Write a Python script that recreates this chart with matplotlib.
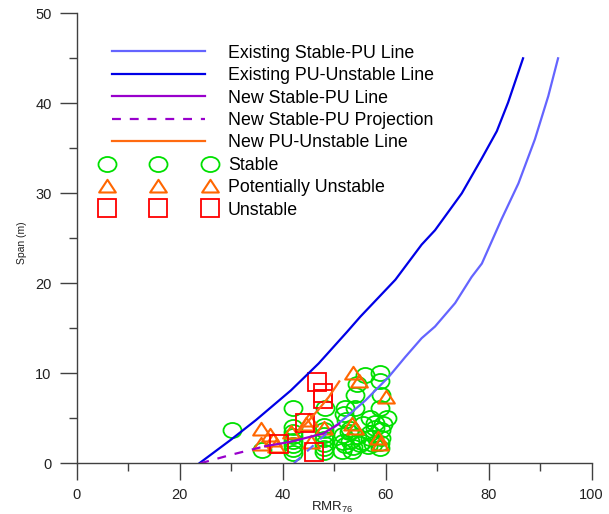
import numpy as np
import matplotlib
matplotlib.use('Agg')
import matplotlib.pyplot as plt
from matplotlib.path import Path
from matplotlib.legend_handler import HandlerLine2D

plt.rcParams['font.family'] = ['Liberation Sans', 'DejaVu Sans']
plt.rcParams['mathtext.fontset'] = 'custom'
plt.rcParams['mathtext.rm'] = 'Liberation Sans'

# existing boundary curves (RMR76, span)
exist_spu_x = [42.2, 47.7, 51.0, 56.1, 60.6, 63.8, 67.0, 69.6, 73.5, 76.7, 78.7, 82.5, 85.8, 89.0, 91.6, 93.5]
exist_spu_y = [0.0, 2.9, 4.5, 7.0, 9.6, 11.8, 13.9, 15.2, 17.8, 20.7, 22.2, 27.1, 31.1, 36.0, 40.8, 45.0]
exist_puu_x = [23.8, 29.9, 34.8, 41.6, 47.0, 52.5, 55.1, 61.9, 67.0, 69.6, 74.8, 78.7, 81.6, 83.8, 86.7]
exist_puu_y = [0.0, 2.6, 4.8, 8.1, 11.1, 14.6, 16.3, 20.4, 24.3, 25.9, 30.0, 33.9, 36.9, 40.1, 45.0]

new_spu_x = [36.6, 41.6, 47.8, 51.0]
new_spu_y = [1.9, 2.4, 3.3, 4.4]
new_proj_x = [24.0, 30.0, 36.6]
new_proj_y = [0.0, 0.95, 1.9]
new_puu_x = [43.2, 45.0, 47.0, 49.0, 51.0]
new_puu_y = [3.6, 4.7, 6.0, 7.4, 9.1]

# case histories
stable_x = [30.1, 35.9, 42.1, 42.1, 42.1, 42.1, 42.1, 42.1, 42.1, 42.1,
            48.2, 48.0, 48.0, 48.0, 48.0, 48.0, 48.0, 48.0,
            56.0, 58.9, 58.9, 54.0, 59.2, 52.1, 54.0, 58.9, 60.2, 57.0,
            52.4, 55.7, 57.9, 59.2, 51.8, 54.4, 57.0, 59.2, 52.1, 53.7,
            58.9, 51.5, 53.0, 55.0, 51.8, 53.5, 57.5, 59.0, 52.8,
            54.5, 55.5, 56.5, 58.0, 52.0, 53.0, 59.5, 57.0]
stable_y = [3.7, 1.5, 6.1, 4.0, 3.5, 3.0, 2.5, 2.0, 1.6, 1.2,
            6.1, 4.2, 3.7, 3.2, 2.7, 2.2, 1.7, 1.3,
            9.8, 10.0, 9.1, 7.6, 7.6, 6.1, 6.1, 6.1, 5.0, 5.0,
            4.8, 4.4, 3.9, 3.7, 3.1, 3.0, 2.8, 2.8, 2.0, 1.8,
            1.7, 1.4, 2.5, 2.2, 2.4, 1.4, 2.2, 2.3, 3.5,
            8.8, 2.4, 1.9, 4.5, 5.5, 3.8, 4.4, 3.4]
pu_x = [53.6, 54.8, 60.0, 53.4, 54.0, 58.6, 58.9, 35.8, 35.8, 37.5,
        38.2, 38.8, 41.7, 44.6, 45.2, 45.5, 48.0]
pu_y = [10.0, 9.1, 7.4, 4.4, 3.9, 2.8, 2.2, 3.8, 2.2, 3.1,
        2.6, 1.9, 3.5, 4.4, 4.8, 2.4, 3.9]
unst_x = [46.7, 47.8, 47.8, 44.3, 46.1, 39.2]
unst_y = [9.0, 7.8, 7.2, 4.5, 1.3, 2.2]

ellipse = Path(Path.unit_circle().vertices * [1.2, 1.0], Path.unit_circle().codes)
tri = Path([(-1.0, -0.72), (1.0, -0.72), (0.0, 0.8), (-1.0, -0.72)],
           [Path.MOVETO, Path.LINETO, Path.LINETO, Path.CLOSEPOLY])

fig = plt.figure(figsize=(6.09, 5.14), dpi=100)
ax = fig.add_axes([0.126, 0.0986, 0.8453, 0.8755])

st, = ax.plot(stable_x, stable_y, ls='none', marker=ellipse, ms=13, mfc='none',
              mec='#00E000', mew=1.3, label='Stable')
pu, = ax.plot(pu_x, pu_y, ls='none', marker=tri, ms=12, mfc='none',
              mec='#FF6600', mew=1.5, label='Potentially Unstable')
un, = ax.plot(unst_x, unst_y, ls='none', marker='s', ms=12.5, mfc='none',
              mec='#FF0000', mew=1.3, label='Unstable')

# existing stable-PU line is dashed below the new line junction
k = 3
l1, = ax.plot(exist_spu_x[k - 1:], exist_spu_y[k - 1:], color='#6464FF', lw=1.6,
              label='Existing Stable-PU Line')
ax.plot(exist_spu_x[:k], exist_spu_y[:k], color='#6464FF', lw=1.6, dashes=(4, 4))
l2, = ax.plot(exist_puu_x, exist_puu_y, color='#0000E6', lw=1.6,
              label='Existing PU-Unstable Line')
l3, = ax.plot(new_spu_x, new_spu_y, color='#9900CC', lw=1.6, label='New Stable-PU Line')
l4, = ax.plot(new_proj_x, new_proj_y, color='#9900CC', lw=1.6, dashes=(4, 4),
              label='New Stable-PU Projection')
l5, = ax.plot(new_puu_x, new_puu_y, color='#FF6A10', lw=1.6, label='New PU-Unstable Line')

ax.set_xlim(0, 100)
ax.set_ylim(0, 50)
ax.set_xticks(np.arange(0, 101, 20))
ax.set_xticks(np.arange(10, 100, 20), minor=True)
ax.set_yticks(np.arange(0, 51, 10))
ax.set_yticks(np.arange(5, 50, 10), minor=True)
for s in ['top', 'right']:
    ax.spines[s].set_visible(False)
for s in ['left', 'bottom']:
    ax.spines[s].set_color('#404040')
    ax.spines[s].set_linewidth(1.0)
ax.tick_params(which='major', direction='out', length=12, width=1.0, color='#404040',
               labelsize=10.5, labelcolor='#222222')
ax.tick_params(axis='x', which='major', pad=5.5)
ax.tick_params(axis='y', which='major', pad=6)
ax.tick_params(which='minor', direction='out', length=6, width=1.0, color='#404040')

ax.set_xlabel(r'RMR$_{\mathregular{76}}$', fontsize=9.5, color='#222222')
ax.xaxis.set_label_coords(0.497, -0.082)
ax.set_ylabel('Span (m)', fontsize=7.5, color='#222222')
ax.yaxis.set_label_coords(-0.097, 0.49)

handles = [l1, l2, l3, l4, l5, st, pu, un]
leg = fig.legend(handles=handles, loc='upper left', bbox_to_anchor=(0.1757, 0.913),
                 bbox_transform=fig.transFigure, frameon=False, fontsize=12.8,
                 numpoints=3, handlelength=5.79, handletextpad=1.0,
                 labelspacing=0.305, borderpad=0, borderaxespad=0,
                 handler_map={st: HandlerLine2D(marker_pad=0),
                              pu: HandlerLine2D(marker_pad=0),
                              un: HandlerLine2D(marker_pad=0)})

fig.savefig('out.png', dpi=100)
